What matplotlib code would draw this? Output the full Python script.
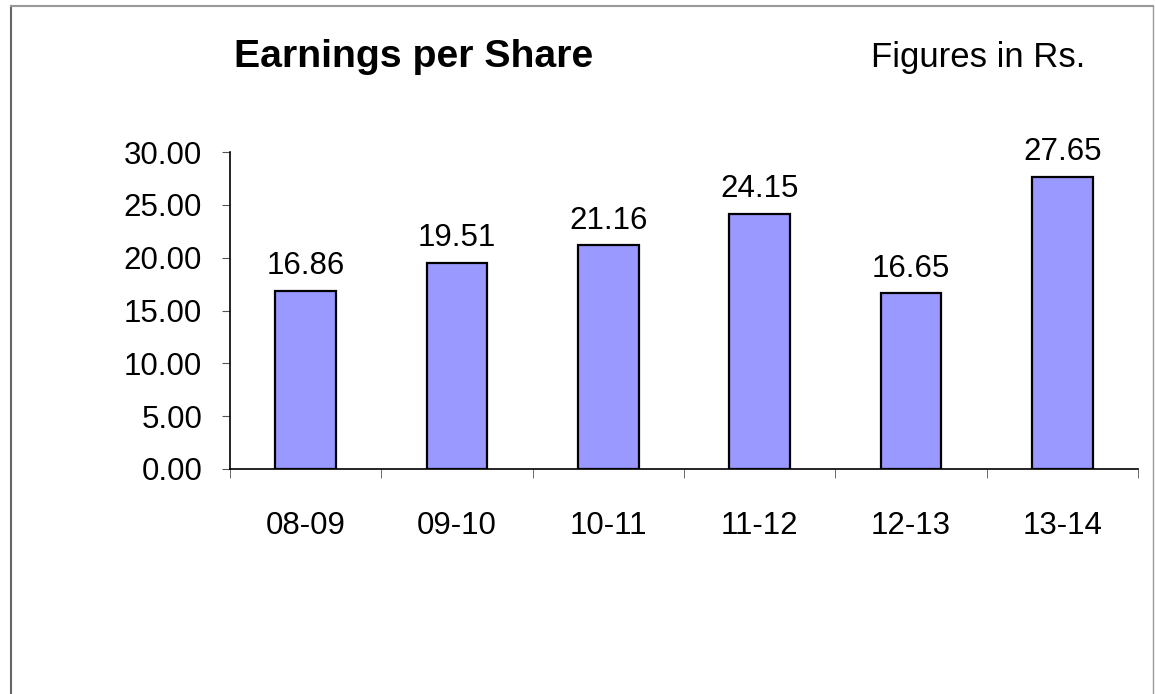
import matplotlib
matplotlib.use('Agg')
import matplotlib.pyplot as plt
from matplotlib.lines import Line2D

years = ['08-09', '09-10', '10-11', '11-12', '12-13', '13-14']
eps = [16.86, 19.51, 21.16, 24.15, 16.65, 27.65]
yticks = [0, 5, 10, 15, 20, 25, 30]

plt.rcParams['font.family'] = ['Liberation Sans', 'DejaVu Sans']

fig = plt.figure(figsize=(11.55, 6.94), dpi=100)
ax = fig.add_axes([230 / 1155, 1 - 469 / 694, (1138 - 230) / 1155, (469 - 152) / 694])

x = list(range(len(years)))
ax.bar(x, eps, width=0.4, color='#9999FF', edgecolor='black', linewidth=1.6, zorder=3)
for xi, v in zip(x, eps):
    ax.text(xi, v + 0.9, '%.2f' % v, ha='center', va='bottom', fontsize=22.5, clip_on=False)

ax.set_xlim(-0.5, len(years) - 0.5)
ax.set_ylim(0, 30)
ax.set_yticks(yticks)
ax.set_yticklabels(['%.2f' % t for t in yticks], fontsize=22.5)
ax.set_xticks(x)
ax.set_xticklabels(years, fontsize=22.5)
ax.set_xticks([i - 0.5 for i in range(len(years) + 1)], minor=True)
ax.tick_params(axis='x', which='major', length=0, pad=30)
ax.tick_params(axis='x', which='minor', length=6.5, color='#555555', direction='out')
ax.tick_params(axis='y', length=6, color='#555555', direction='out', pad=14)

for s in ['top', 'right']:
    ax.spines[s].set_visible(False)
ax.spines['left'].set_linewidth(1.2)
ax.spines['bottom'].set_linewidth(1.2)

fig.text(234 / 1155, 1 - 57 / 694, 'Earnings per Share', fontsize=28.3, fontweight='bold',
         ha='left', va='center')
fig.text(1085 / 1155, 1 - 57 / 694, 'Figures in Rs.', fontsize=25, ha='right', va='center')

# outer frame (left, top, right)
fig.add_artist(Line2D([11 / 1155, 11 / 1155], [0, 1 - 6 / 694], color='#666666', linewidth=1.5))
fig.add_artist(Line2D([11 / 1155, 1153 / 1155], [1 - 6 / 694, 1 - 6 / 694], color='#999999', linewidth=1.5))
fig.add_artist(Line2D([1153 / 1155, 1153 / 1155], [0, 1 - 6 / 694], color='#999999', linewidth=1.0))

fig.savefig('out.png', dpi=100)
